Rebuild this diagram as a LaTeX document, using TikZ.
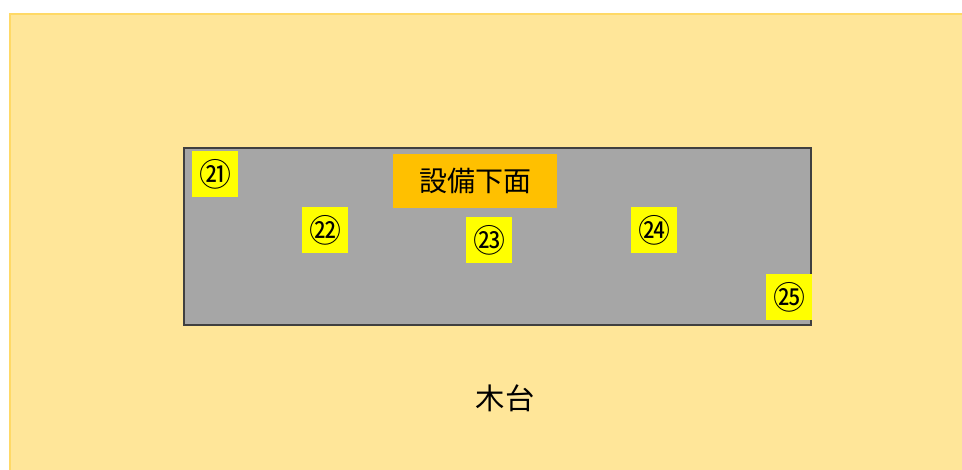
\documentclass[tikz,border=0pt]{standalone}
\usepackage{fontspec}
\newfontfamily\jpfont{Noto Sans CJK JP}
\usepackage{tikz}
\usetikzlibrary{calc}
\definecolor{woodfill}{HTML}{FFE699}
\definecolor{woodline}{HTML}{FFD966}
\definecolor{basefill}{HTML}{A6A6A6}
\definecolor{baseline}{HTML}{404040}
\definecolor{tagfill}{HTML}{FFFF00}
\definecolor{titlefill}{HTML}{FFC000}
\tikzset{
	pointtag/.style={fill=tagfill,minimum width=34.5pt,minimum height=34.5pt,inner sep=0pt,font=\jpfont\fontsize{24pt}{24pt}\selectfont},
	titletag/.style={fill=titlefill,minimum width=123pt,minimum height=40pt,inner sep=0pt,font=\jpfont\fontsize{21pt}{21pt}\selectfont}
}
\begin{document}
\begin{tikzpicture}[x=0.75pt,y=-0.75pt]
	\useasboundingbox (0,0) rectangle (962,470);

	% draw wooden stand

	\draw[line width=1.5pt,color=woodline,fill=woodfill] (10,14) rectangle (970,478);
	\node[font=\jpfont\fontsize{22pt}{22pt}\selectfont] (stand) at (505,398) {木台};

	% draw equipment bottom

	\draw[line width=1.5pt,color=baseline,fill=basefill] (184,148) rectangle (811,325);
	\node[titletag] (title) at (475,181) {設備下面};

	% measuring points

	\node[pointtag] (p21) at (215,174) {㉑};
	\node[pointtag] (p22) at (325,230) {㉒};
	\node[pointtag] (p23) at (489,240) {㉓};
	\node[pointtag] (p24) at (654,230) {㉔};
	\node[pointtag] (p25) at (789,297) {㉕};
\end{tikzpicture}
\end{document}
